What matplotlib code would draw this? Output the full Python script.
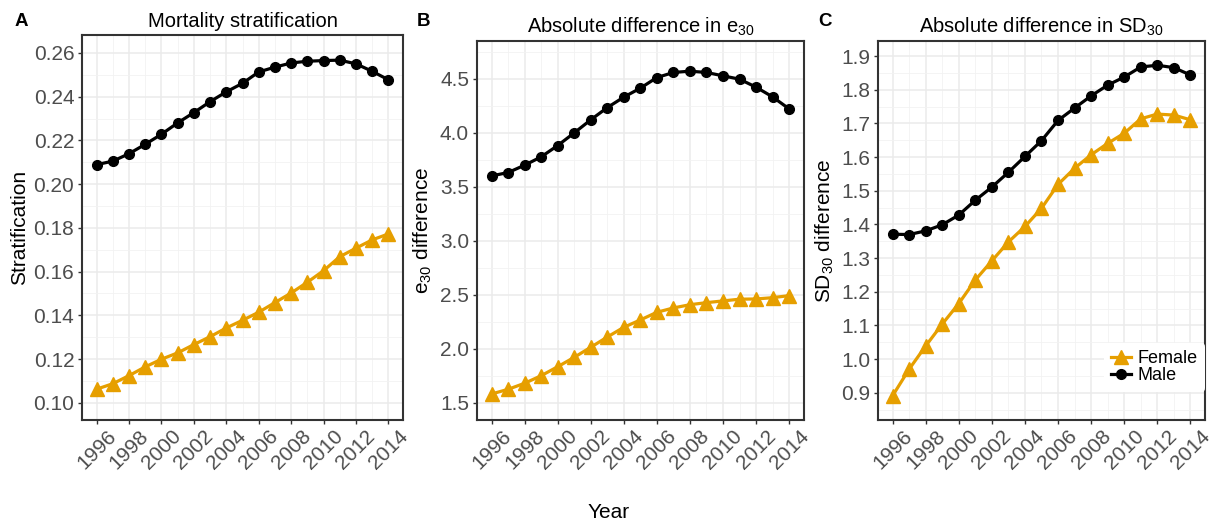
import matplotlib
matplotlib.use("Agg")
from matplotlib import pyplot as plt
from matplotlib.ticker import MultipleLocator, FormatStrFormatter

plt.rcParams['font.family'] = ['Liberation Sans', 'DejaVu Sans']
plt.rcParams['mathtext.default'] = 'regular'

years = list(range(1996, 2015))

strat_male = [0.2089, 0.2105, 0.2139, 0.2182, 0.2228, 0.2280, 0.2327, 0.2377, 0.2422, 0.2461,
              0.2513, 0.2535, 0.2554, 0.2562, 0.2565, 0.2567, 0.2550, 0.2516, 0.2477]
strat_female = [0.1062, 0.1087, 0.1124, 0.1164, 0.1199, 0.1228, 0.1266, 0.1302, 0.1342, 0.1377,
                0.1414, 0.1458, 0.1502, 0.1551, 0.1604, 0.1668, 0.1707, 0.1745, 0.1772]

e30_male = [3.599, 3.630, 3.698, 3.775, 3.880, 3.997, 4.118, 4.231, 4.328, 4.411,
            4.509, 4.556, 4.568, 4.556, 4.525, 4.494, 4.420, 4.330, 4.219]
e30_female = [1.581, 1.624, 1.680, 1.750, 1.833, 1.920, 2.013, 2.108, 2.198, 2.266,
              2.337, 2.377, 2.407, 2.426, 2.442, 2.458, 2.460, 2.472, 2.491]

sd30_male = [1.371, 1.370, 1.381, 1.399, 1.428, 1.472, 1.511, 1.555, 1.602, 1.649,
             1.709, 1.746, 1.782, 1.814, 1.838, 1.868, 1.873, 1.866, 1.844]
sd30_female = [0.891, 0.970, 1.039, 1.104, 1.165, 1.235, 1.292, 1.348, 1.394, 1.448,
               1.519, 1.567, 1.607, 1.641, 1.671, 1.714, 1.728, 1.725, 1.711]

orange = "#E69F00"
tick_gray = "#4D4D4D"
W, H = 1219, 529

fig = plt.figure(figsize=(12.19, 5.29), dpi=100)

# axes boxes in pixels: left, top, right, bottom
panels = [
    dict(box=(82, 35, 403, 420), male=strat_male, female=strat_female,
         title="Mortality stratification", ylabel="Stratification", letter="A", letter_x=15,
         ylim=(0.0921, 0.2682), major=0.02, minor=0.01, fmt="%.2f", label_x=20),
    dict(box=(476.7, 40.7, 804, 420), male=e30_male, female=e30_female,
         title="Absolute difference in e$_{30}$", ylabel="e$_{30}$ difference", letter="B", letter_x=417,
         ylim=(1.34, 4.85), major=0.5, minor=0.25, fmt="%.1f", label_x=423),
    dict(box=(877.7, 40.7, 1205.3, 420), male=sd30_male, female=sd30_female,
         title="Absolute difference in SD$_{30}$", ylabel="SD$_{30}$ difference", letter="C", letter_x=818,
         ylim=(0.819, 1.946), major=0.1, minor=0.05, fmt="%.1f", label_x=825),
]

for i, p in enumerate(panels):
    l, t, r, b = p["box"]
    ax = fig.add_axes([l / W, 1 - b / H, (r - l) / W, (b - t) / H])
    ax.plot(years, p["female"], color=orange, lw=2.3, marker="^", ms=9.5, label="Female", zorder=3)
    ax.plot(years, p["male"], color="black", lw=2.3, marker="o", ms=7, label="Male", zorder=3)
    ax.set_xlim(1995.1, 2014.9)
    ax.set_ylim(*p["ylim"])
    ax.xaxis.set_major_locator(MultipleLocator(2))
    ax.xaxis.set_minor_locator(MultipleLocator(1))
    ax.yaxis.set_major_locator(MultipleLocator(p["major"]))
    ax.yaxis.set_minor_locator(MultipleLocator(p["minor"]))
    ax.yaxis.set_major_formatter(FormatStrFormatter(p["fmt"]))
    ax.grid(which="major", color="#EBEBEB", lw=1.1, zorder=0)
    ax.grid(which="minor", color="#F2F2F2", lw=0.6, zorder=0)
    ax.set_axisbelow(True)
    for s in ax.spines.values():
        s.set_linewidth(1.5)
        s.set_color("#333333")
    ax.tick_params(which="major", direction="out", length=3, width=1, color="#333333",
                   labelsize=15, labelcolor=tick_gray)
    ax.tick_params(axis="x", pad=1.5)
    ax.tick_params(axis="y", pad=2.5)
    ax.tick_params(which="minor", length=0)
    for lab in ax.get_xticklabels():
        lab.set_rotation(45)
        lab.set_ha("center")
        lab.set_va("top")
    ax.set_title(p["title"], fontsize=14.5, pad=6)
    ax.set_ylabel(p["ylabel"], fontsize=15, va="center")
    ax.yaxis.set_label_coords((p["label_x"] - l) / (r - l), 0.5)
    fig.text(p["letter_x"] / W, 1 - 21 / H, p["letter"], fontsize=13.5, fontweight="bold",
             va="center", ha="left")
    if i == 2:
        leg = ax.legend(loc="lower right", bbox_to_anchor=(1.0, 0.075), fontsize=13,
                        handlelength=1.1, handletextpad=0.4, labelspacing=0.0,
                        frameon=True, borderpad=0.4, borderaxespad=0)
        leg.get_frame().set_facecolor("white")
        leg.get_frame().set_edgecolor("none")
        leg.get_frame().set_alpha(1)

fig.text(609 / W, 1 - 512 / H, "Year", fontsize=15, ha="center", va="center")

fig.savefig("out.png", dpi=100)
